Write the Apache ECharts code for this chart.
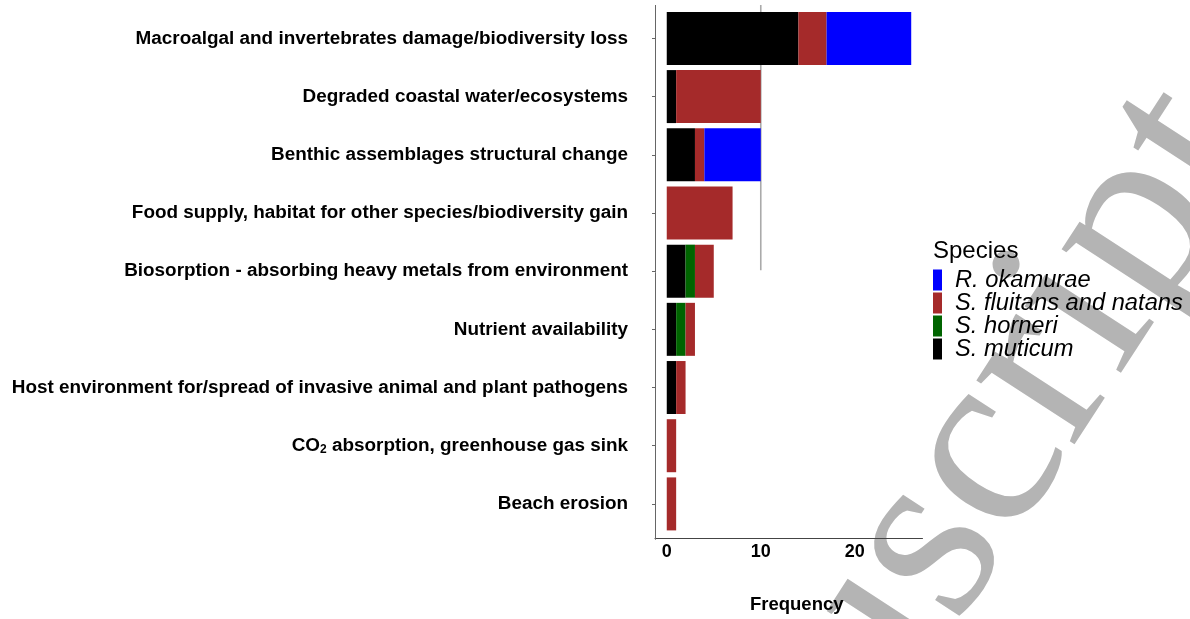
<!DOCTYPE html>
<html>
<head>
<meta charset="utf-8">
<script src="https://cdn.jsdelivr.net/npm/echarts@6/dist/echarts.min.js"></script>
<style>
  html, body { margin: 0; padding: 0; background: #fff; }
  #chart { width: 1190px; height: 619px; }
</style>
</head>
<body>
<div id="chart"></div>
<script>
// Impact categories (top to bottom)
const categories = [
  'Macroalgal and invertebrates damage/biodiversity loss',
  'Degraded coastal water/ecosystems',
  'Benthic assemblages structural change',
  'Food supply, habitat for other species/biodiversity gain',
  'Biosorption - absorbing heavy metals from environment',
  'Nutrient availability',
  'Host environment for/spread of invasive animal and plant pathogens',
  'CO2 absorption, greenhouse gas sink',
  'Beach erosion'
];

// Frequency per species (stack order: muticum, horneri, fluitans/natans, okamurae)
const sMuticum  = [14, 1, 3, 0, 2, 1, 1, 0, 0];
const sHorneri  = [0, 0, 0, 0, 1, 1, 0, 0, 0];
const sFluitans = [3, 9, 1, 7, 2, 1, 1, 1, 1];
const rOkamurae = [9, 0, 6, 0, 0, 0, 0, 0, 0];

const xTicks = [0, 10, 20];
const legendOrder = ['R. okamurae', 'S. fluitans and natans', 'S. horneri', 'S. muticum'];

const GRID = { left: 655, top: 9.3, width: 267.5, height: 525.4 };
const LABEL_FONT = '"Liberation Sans", Arial, sans-serif';

const chart = echarts.init(document.getElementById('chart'), null, { renderer: 'canvas' });

function barSeries(name, data, color) {
  return {
    name: name,
    type: 'bar',
    stack: 'total',
    barWidth: 53,
    data: data,
    itemStyle: { color: color },
    emphasis: { disabled: true }
  };
}

chart.setOption({
  animation: false,
  backgroundColor: '#ffffff',
  grid: { left: GRID.left, top: GRID.top, width: GRID.width, height: GRID.height, containLabel: false },
  title: {
    text: 'Species',
    left: 928,
    top: 234,
    textStyle: { fontFamily: LABEL_FONT, fontSize: 24, fontWeight: 'normal', color: '#000' }
  },
  legend: {
    data: legendOrder,
    orient: 'vertical',
    left: 928,
    top: 263,
    icon: 'rect',
    itemWidth: 9,
    itemHeight: 21,
    itemGap: -1,
    selectedMode: false,
    textStyle: {
      fontFamily: LABEL_FONT, fontSize: 23.7, fontStyle: 'italic', color: '#000',
      padding: [0, 0, 0, 8]
    }
  },
  xAxis: {
    type: 'value',
    min: -1.25,
    max: 27.2,
    offset: 5,
    splitLine: { show: false },
    axisLine: { show: true, lineStyle: { color: '#444', width: 1 } },
    axisTick: { show: false },
    axisLabel: {
      customValues: xTicks,
      margin: 5,
      fontFamily: LABEL_FONT, fontSize: 18, fontWeight: 'bold', color: '#000'
    },
    name: 'Frequency',
    nameLocation: 'middle',
    nameGap: 57,
    nameTextStyle: {
      fontFamily: LABEL_FONT, fontSize: 18.5, fontWeight: 'bold', color: '#000',
      padding: [0, 0, 0, 16]
    }
  },
  yAxis: {
    type: 'category',
    data: categories,
    inverse: true,
    axisLine: { show: false, onZero: false },
    axisTick: { show: true, length: 3, alignWithLabel: true, lineStyle: { color: '#666' } },
    axisLabel: {
      margin: 27,
      fontFamily: LABEL_FONT, fontSize: 18.9, fontWeight: 'bold', color: '#000',
      formatter: function (v) { return v.replace('CO2', 'CO{sub|2}'); },
      rich: {
        sub: { fontFamily: LABEL_FONT, fontSize: 12, fontWeight: 'bold', color: '#000', verticalAlign: 'bottom', padding: [6, 0, 0, 0] }
      }
    }
  },
  series: [
    barSeries('S. muticum', sMuticum, '#000000'),
    barSeries('S. horneri', sHorneri, '#006400'),
    barSeries('S. fluitans and natans', sFluitans, '#A52A2A'),
    barSeries('R. okamurae', rOkamurae, '#0000FF')
  ],
  graphic: [
    {
      // diagonal watermark behind the plot
      id: 'watermark',
      type: 'text',
      x: 576,
      y: 1089,
      rotation: 57 * Math.PI / 180,
      z: -10,
      silent: true,
      style: {
        text: 'Manuscript',
        font: '255px "Liberation Serif", "Times New Roman", serif',
        fill: '#b4b4b4',
        align: 'left',
        verticalAlign: 'middle'
      }
    }
  ]
});

// Left axis rule and the reference line at x = 10, placed with the chart's own scales
const x10 = chart.convertToPixel({ xAxisIndex: 0 }, 10);
const yRow5 = chart.convertToPixel({ yAxisIndex: 0 }, categories[4]);
chart.setOption({
  graphic: [
    {
      id: 'yAxisRule',
      type: 'line',
      silent: true,
      z: 5,
      shape: { x1: GRID.left + 0.5, y1: GRID.top - 4.3, x2: GRID.left + 0.5, y2: GRID.top + GRID.height + 5 },
      style: { stroke: '#666', lineWidth: 1 }
    },
    {
      id: 'ref10',
      type: 'line',
      silent: true,
      z: 1,
      shape: { x1: x10, y1: GRID.top - 4.3, x2: x10, y2: yRow5 - 1 },
      style: { stroke: '#aaaaaa', lineWidth: 1.6 }
    }
  ]
});
</script>
</body>
</html>
